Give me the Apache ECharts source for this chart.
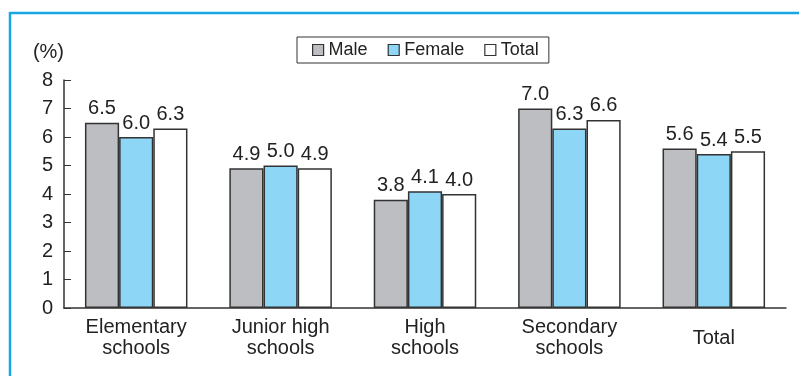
<!DOCTYPE html>
<html>
<head>
<meta charset="utf-8">
<script src="https://cdn.jsdelivr.net/npm/echarts@6/dist/echarts.min.js"></script>
<style>
  html, body { margin: 0; padding: 0; background: #fff; }
  #chart { width: 799px; height: 376px; }
</style>
</head>
<body>
<div id="chart"></div>
<script>
// categories and values
const categories = ['Elementary\nschools', 'Junior high\nschools', 'High\nschools', 'Secondary\nschools', 'Total'];
const male = [6.5, 4.9, 3.8, 7.0, 5.6];
const female = [6.0, 5.0, 4.1, 6.3, 5.4];
const total = [6.3, 4.9, 4.0, 6.6, 5.5];

const font = 'Liberation Sans, Arial, sans-serif';

function barSeries(name, data, color) {
  return {
    name: name,
    type: 'bar',
    data: data,
    barGap: '0%',
    barCategoryGap: '29%',
    itemStyle: { color: color, borderColor: '#333', borderWidth: 1.5 },
    label: {
      show: true,
      position: 'top',
      distance: 4,
      color: '#222',
      fontSize: 20,
      fontFamily: font,
      formatter: p => p.value.toFixed(1)
    }
  };
}

const option = {
  animation: false,
  backgroundColor: '#fff',
  textStyle: { fontFamily: font },
  grid: { left: 64, right: 13, top: 80, bottom: 68 },
  legend: {
    left: 297,
    top: 37,
    padding: [4, 10, 4, 15],
    icon: 'rect',
    itemWidth: 11,
    itemHeight: 11,
    itemGap: 20,
    borderColor: '#333',
    borderWidth: 1,
    itemStyle: { borderWidth: 1.2 },
    textStyle: { fontSize: 18, color: '#222', fontFamily: font },
    data: ['Male', 'Female', 'Total']
  },
  xAxis: {
    type: 'category',
    data: categories,
    axisLine: { lineStyle: { color: '#333', width: 1.5 } },
    axisTick: { inside: true, length: 8, lineStyle: { color: '#333' } },
    axisLabel: {
      color: '#222',
      fontSize: 20,
      fontFamily: font,
      lineHeight: 21,
      verticalAlign: 'middle',
      margin: 30,
      interval: 0
    }
  },
  yAxis: {
    type: 'value',
    min: 0,
    max: 8,
    interval: 1,
    name: '(%)',
    nameLocation: 'end',
    nameGap: 28,
    nameTextStyle: { color: '#222', fontSize: 20, fontFamily: font, align: 'right', verticalAlign: 'middle' },
    axisLine: { show: true, lineStyle: { color: '#333', width: 1.5 } },
    axisTick: { show: true, inside: true, length: 7, lineStyle: { color: '#333' } },
    splitLine: { show: false },
    axisLabel: { color: '#222', fontSize: 20, fontFamily: font, margin: 11 }
  },
  graphic: [
    { type: 'line', shape: { x1: 10, y1: 13, x2: 799, y2: 13 }, style: { stroke: '#16a6e2', lineWidth: 2.5 } },
    { type: 'line', shape: { x1: 10, y1: 12, x2: 10, y2: 376 }, style: { stroke: '#16a6e2', lineWidth: 2.5 } }
  ],
  series: [
    barSeries('Male', male, '#bdbec2'),
    barSeries('Female', female, '#8dd6f5'),
    barSeries('Total', total, '#ffffff')
  ]
};

const chart = echarts.init(document.getElementById('chart'));
chart.setOption(option);
</script>
</body>
</html>
